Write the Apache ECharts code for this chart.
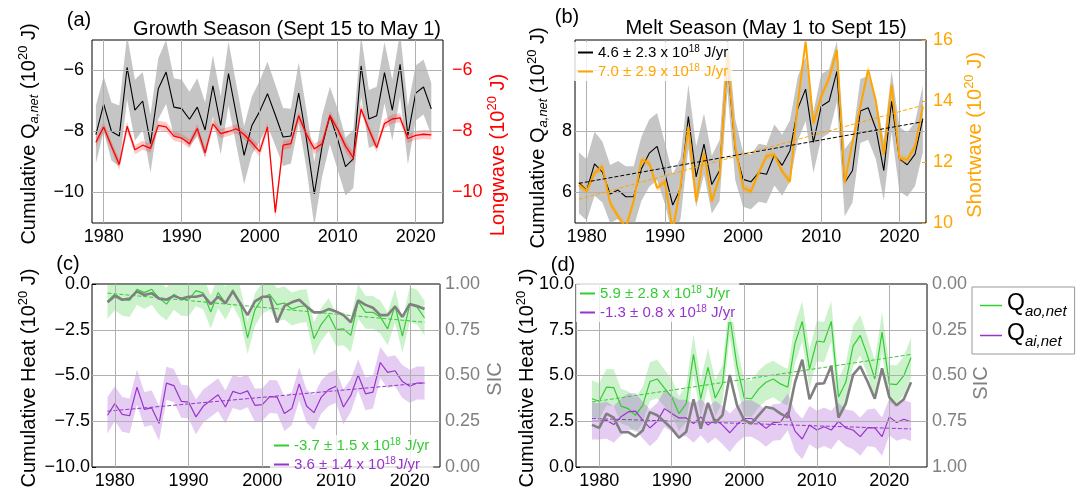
<!DOCTYPE html>
<html>
<head>
<meta charset="utf-8">
<script src="https://cdn.jsdelivr.net/npm/echarts@6/dist/echarts.min.js"></script>
<style>
  html, body { margin: 0; padding: 0; background: #fff; }
  #chart { width: 1080px; height: 490px; }
</style>
</head>
<body>
<div id="chart"></div>
<script>
// ---- data ----
var years = [1979, 1980, 1981, 1982, 1983, 1984, 1985, 1986, 1987, 1988, 1989, 1990, 1991, 1992, 1993,
  1994, 1995, 1996, 1997, 1998, 1999, 2000, 2001, 2002, 2003, 2004, 2005, 2006, 2007, 2008, 2009,
  2010, 2011, 2012, 2013, 2014, 2015, 2016, 2017, 2018, 2019, 2020, 2021, 2022];
var yearsMelt = years.concat([2023]);

var xTickYears = [1980, 1990, 2000, 2010, 2020];

// (a) growth season
var growthNet = [-8.1, -7.1, -8.0, -8.15, -5.9, -7.3, -7.0, -8.4, -6.6, -6.05, -7.2, -7.25, -7.6, -7.2, -7.95,
  -6.5, -7.8, -6.1, -7.45, -8.78, -7.8, -7.34, -6.76, -7.46, -8.18, -8.15, -6.74, -8.26, -10.05, -8.48, -7.48,
  -8.26, -9.15, -8.9, -5.85, -7.59, -7.48, -6.07, -7.3, -5.8, -8.13, -6.74, -6.54, -7.26];
var growthNetErr = [0.95, 0.9, 0.95, 1.0, 1.05, 1.0, 0.95, 0.95, 1.0, 1.05, 0.95, 0.95, 0.9, 0.95, 0.9,
  1.0, 0.95, 1.05, 1.0, 0.95, 0.95, 1.0, 1.05, 1.0, 0.95, 0.9, 1.0, 0.95, 1.05, 1.0, 0.95,
  1.0, 0.95, 0.95, 1.0, 0.95, 0.95, 1.0, 1.0, 1.05, 0.95, 0.9, 0.9, 0.85];
var growthLw = [-8.35, -7.85, -8.48, -9.08, -7.83, -8.6, -8.45, -8.55, -7.8, -7.85, -8.15, -8.22, -8.4, -7.9, -8.7,
  -7.75, -8.07, -8.0, -7.91, -8.1, -8.37, -8.66, -7.85, -10.65, -8.45, -8.4, -7.48, -8.1, -8.57, -8.4, -7.48,
  -7.93, -8.48, -8.86, -7.26, -7.93, -8.53, -7.74, -7.59, -7.55, -8.23, -8.13, -8.09, -8.11];
var growthLwErr = [0.15, 0.15, 0.15, 0.18, 0.15, 0.15, 0.15, 0.15, 0.15, 0.15, 0.15, 0.15, 0.15, 0.15, 0.18,
  0.15, 0.15, 0.15, 0.15, 0.15, 0.15, 0.18, 0.15, 0.2, 0.15, 0.15, 0.15, 0.15, 0.18, 0.15, 0.15,
  0.15, 0.18, 0.18, 0.15, 0.15, 0.15, 0.15, 0.15, 0.15, 0.15, 0.15, 0.15, 0.15];

// (b) melt season
var meltNet = [6.32, 6.08, 6.94, 6.67, 5.95, 6.08, 5.86, 5.86, 6.78, 7.29, 7.51, 6.62, 5.59, 6.13, 8.49,
  6.51, 7.59, 6.26, 6.72, 10.29, 7.4, 6.43, 6.35, 6.65, 6.6, 7.23, 6.89, 7.37, 8.75, 9.39, 7.64,
  8.83, 8.99, 9.97, 6.32, 6.72, 8.67, 8.78, 8.08, 6.72, 8.99, 7.1, 6.91, 7.26, 8.42];
var meltNetErr = [1.0, 1.0, 1.05, 1.0, 0.95, 0.95, 1.0, 1.0, 1.05, 1.1, 1.1, 1.0, 1.0, 1.0, 1.05,
  1.0, 1.0, 0.95, 1.0, 0.95, 1.0, 0.9, 0.9, 0.95, 0.95, 1.0, 1.0, 1.0, 1.05, 1.05, 1.0,
  1.05, 1.05, 1.0, 1.1, 1.05, 1.05, 1.05, 1.0, 1.0, 1.0, 1.05, 1.05, 1.05, 1.1];
var meltSw = [11.25, 11.04, 11.64, 11.85, 10.65, 10.22, 9.85, 10.71, 12.07, 11.96, 11.15, 11.36, 9.75, 11.2, 13.16,
  10.71, 12.29, 10.71, 11.53, 15.5, 12.5, 11.15, 11.04, 11.64, 12.2, 12.24, 11.69, 11.36, 13.93, 15.95, 13.27,
  14.15, 14.75, 15.67, 11.31, 12.67, 13.82, 15.02, 13.98, 12.24, 14.53, 12.13, 12.07, 12.51, 13.82];
var meltSwErr = [0.12, 0.12, 0.12, 0.12, 0.12, 0.12, 0.12, 0.12, 0.12, 0.12, 0.12, 0.12, 0.12, 0.12, 0.12,
  0.12, 0.12, 0.12, 0.12, 0.15, 0.12, 0.12, 0.12, 0.12, 0.12, 0.12, 0.12, 0.12, 0.15, 0.15, 0.12,
  0.15, 0.15, 0.15, 0.12, 0.12, 0.12, 0.15, 0.12, 0.12, 0.15, 0.12, 0.12, 0.12, 0.12];
var meltNetTrend = [[1979, 6.3], [2023, 8.32]];
var meltSwTrend = [[1979, 10.78], [2023, 13.86]];

// (c) growth season ocean / ice
var growthAo = [-0.95, -0.54, -0.83, -0.9, -0.29, -0.47, -0.29, -0.77, -1.1, -0.56, -0.83, -0.86, -0.36, -0.5, -1.53,
  -0.47, -1.05, -0.32, -1.05, -2.94, -1.4, -0.77, -0.56, -1.13, -1.04, -1.37, -1.23, -1.19, -2.99, -2.2, -1.68,
  -2.49, -2.45, -2.81, -0.95, -1.55, -1.55, -1.8, -2.45, -1.19, -2.85, -1.13, -1.26, -1.86];
var growthAoErr = [0.95, 0.9, 0.9, 0.9, 0.85, 0.9, 0.85, 0.9, 0.9, 0.85, 0.9, 0.9, 0.85, 0.9, 0.9,
  0.85, 0.9, 0.85, 0.9, 0.9, 0.9, 0.85, 0.85, 0.9, 0.9, 0.9, 0.9, 0.9, 0.9, 0.9, 0.9,
  0.9, 0.9, 0.9, 0.95, 0.9, 0.9, 0.9, 0.9, 0.9, 0.9, 0.95, 0.95, 0.95];
var growthAi = [-7.17, -6.54, -7.12, -7.2, -5.64, -6.85, -6.77, -7.62, -5.42, -5.55, -6.41, -6.45, -7.26, -6.67, -6.36,
  -6.05, -6.72, -5.87, -6.0, -5.84, -6.63, -6.59, -6.15, -6.18, -7.08, -6.81, -5.46, -6.67, -7.03, -6.18, -5.77,
  -5.59, -6.72, -6.09, -4.97, -6.0, -5.91, -4.29, -4.83, -4.74, -5.33, -5.59, -5.41, -5.41];
var growthAiErr = [1.0, 0.95, 0.95, 0.95, 0.95, 0.95, 0.95, 0.95, 0.9, 0.9, 0.9, 0.9, 0.95, 0.9, 0.9,
  0.9, 0.9, 0.9, 0.9, 0.9, 0.9, 0.9, 0.9, 0.9, 0.95, 0.9, 0.9, 0.9, 0.95, 0.9, 0.9,
  0.9, 0.95, 0.9, 0.85, 0.9, 0.9, 0.85, 0.85, 0.85, 0.9, 0.9, 0.9, 0.9];
var growthSic = [0.90, 0.935, 0.914, 0.92, 0.96, 0.94, 0.95, 0.92, 0.914, 0.935, 0.92, 0.93, 0.93, 0.94, 0.89,
  0.93, 0.895, 0.96, 0.895, 0.83, 0.905, 0.93, 0.93, 0.79, 0.88, 0.9, 0.914, 0.877, 0.845, 0.845, 0.863,
  0.85, 0.83, 0.79, 0.91, 0.886, 0.87, 0.83, 0.83, 0.877, 0.82, 0.89, 0.88, 0.863];
var growthAoTrend = [[1979, -0.5], [2022, -2.09]];
var growthAiTrend = [[1979, -6.95], [2022, -5.4]];

// (d) melt season ocean / ice
var meltAo = [3.73, 3.59, 4.36, 4.34, 3.33, 3.19, 2.83, 3.37, 4.67, 4.81, 4.31, 3.82, 2.92, 3.46, 6.16,
  3.73, 5.44, 3.77, 4.54, 8.23, 5.53, 3.77, 3.73, 4.27, 4.63, 4.81, 4.54, 4.36, 6.76, 7.96, 5.35,
  6.88, 6.83, 7.96, 3.82, 4.63, 6.61, 7.19, 6.07, 4.81, 7.37, 4.54, 4.5, 4.99, 5.98];
var meltAoErr = [1.0, 1.0, 1.0, 1.0, 0.95, 0.95, 0.95, 1.0, 1.05, 1.05, 1.0, 1.0, 0.95, 1.0, 1.1,
  1.0, 1.05, 1.0, 1.0, 1.1, 1.05, 1.0, 1.0, 1.0, 1.0, 1.0, 1.0, 1.0, 1.1, 1.1, 1.05,
  1.1, 1.1, 1.1, 1.0, 1.05, 1.1, 1.1, 1.05, 1.0, 1.1, 1.05, 1.05, 1.05, 1.1];
var meltAi = [2.5, 2.5, 2.56, 2.32, 2.74, 3.01, 3.05, 2.56, 2.14, 2.5, 3.19, 2.92, 2.68, 2.68, 2.38,
  2.74, 2.29, 2.61, 2.29, 1.87, 2.32, 2.65, 2.65, 2.43, 2.11, 2.43, 2.47, 3.01, 1.96, 1.53, 2.29,
  2.02, 2.2, 2.02, 2.5, 2.14, 2.02, 1.66, 2.14, 2.14, 1.66, 2.74, 2.43, 2.61, 2.47];
var meltAiErr = [1.0, 1.0, 1.0, 1.0, 1.0, 1.0, 1.0, 1.0, 1.0, 1.0, 1.0, 1.0, 1.0, 1.0, 1.05,
  1.0, 1.0, 1.0, 1.05, 1.05, 1.0, 1.0, 1.0, 1.0, 1.0, 1.0, 1.0, 1.0, 1.1, 1.1, 1.05,
  1.05, 1.05, 1.05, 1.0, 1.0, 1.05, 1.05, 1.0, 1.05, 1.05, 1.0, 1.0, 1.05, 1.05];
var meltSic = [0.77, 0.786, 0.708, 0.73, 0.81, 0.81, 0.834, 0.80, 0.70, 0.717, 0.753, 0.79, 0.84, 0.807, 0.63,
  0.79, 0.65, 0.76, 0.717, 0.497, 0.663, 0.744, 0.762, 0.717, 0.672, 0.68, 0.708, 0.73, 0.537, 0.414, 0.63,
  0.546, 0.542, 0.447, 0.73, 0.654, 0.497, 0.45, 0.533, 0.627, 0.461, 0.618, 0.663, 0.63, 0.537];
var meltAoTrend = [[1979, 3.55], [2023, 6.15]];
var meltAiTrend = [[1979, 2.65], [2023, 2.08]];

// tick labels and grid lines
var aTicks = [-10, -8, -6];
var bLeftTicks = [6, 8];
var bGrid = [6, 8, 10];
var bRightTicks = [10, 12, 14, 16];
var cTicks = [-10, -7.5, -5, -2.5, 0];
var cGrid = [-7.5, -5, -2.5];
var dTicks = [0, 2.5, 5, 7.5, 10];
var dGrid = [2.5, 5, 7.5];
var sicTicks = [0, 0.25, 0.5, 0.75, 1];

// ---- styling ----
var FONT = '"Liberation Sans", Arial, sans-serif';
var GRID_COLOR = '#b0b0b0';
var GREEN = '#33cc33';
var PURPLE = '#9933cc';
var ORANGE = '#ffa500';
var SIC_GRAY = '#808080';
var TICK_SIZE = 18;
var NAME_SIZE = 20;

function pairs(xs, ys) {
  return xs.map(function(x, i) { return [x, ys[i]]; });
}

function richFor(size, color) {
  var small = Math.round(size * 0.64);
  return {
    t: { fontSize: size, fontFamily: FONT, fill: color, color: color, lineHeight: size + 4 },
    sub: { fontSize: small, fontFamily: FONT, fontStyle: 'italic', fill: color, color: color,
      lineHeight: small, verticalAlign: 'bottom' },
    sup: { fontSize: small, fontFamily: FONT, fill: color, color: color,
      lineHeight: small, verticalAlign: 'top' }
  };
}

function txt(x, y, text, size, color, rot, align) {
  return {
    type: 'text', x: x, y: y, rotation: rot || 0, silent: true, z: 100,
    style: {
      text: text, fontSize: size, fontFamily: FONT, fill: color,
      align: align || 'center', verticalAlign: 'middle',
      textAlign: align || 'center', textVerticalAlign: 'middle',
      rich: richFor(size, color)
    }
  };
}

function xAx(gi, min, max) {
  return {
    type: 'value', gridIndex: gi, min: min, max: max,
    axisLine: { show: false },
    axisTick: { show: false },
    splitLine: { show: false },
    axisLabel: {
      customValues: xTickYears, margin: 5, fontSize: TICK_SIZE, fontFamily: FONT, color: '#000',
      formatter: function(v) { return String(v); }
    }
  };
}

function yAx(gi, pos, min, max, ticks, color, fmt, margin, inverse) {
  return {
    type: 'value', gridIndex: gi, position: pos, min: min, max: max, inverse: !!inverse,
    axisLine: { show: false },
    axisTick: { show: true, inside: true, length: 4, customValues: ticks, lineStyle: { color: color } },
    splitLine: { show: false },
    axisLabel: {
      customValues: ticks, margin: margin, fontSize: TICK_SIZE, fontFamily: FONT, color: color,
      formatter: fmt
    }
  };
}

function minusFmt(dec) {
  return function(v) {
    var s = Math.abs(v).toFixed(dec);
    return (v < 0 ? '\u2212' : '') + s;
  };
}

function gridLines(xi, yi, yVals) {
  var data = xTickYears.map(function(x) { return { xAxis: x }; })
    .concat(yVals.map(function(y) { return { yAxis: y }; }));
  return {
    type: 'line', xAxisIndex: xi, yAxisIndex: yi, data: [], symbol: 'none', silent: true, z: 1,
    markLine: {
      silent: true, symbol: ['none', 'none'], label: { show: false }, animation: false,
      lineStyle: { color: GRID_COLOR, width: 1, type: 'solid' },
      emphasis: { disabled: true },
      data: data
    }
  };
}

// uncertainty band: one polygon through (year, v - err) and back along (year, v + err)
function band(xs, vals, errs, color, xi, yi, z) {
  var rows = xs.map(function(x, i) { return [x, vals[i] - errs[i], vals[i] + errs[i]]; });
  return {
    type: 'custom', xAxisIndex: xi, yAxisIndex: yi, z: z, silent: true,
    data: rows, encode: { x: 0, y: [1, 2] },
    renderItem: function(params, api) {
      if (params.dataIndex !== 0) return null;
      var pts = [];
      rows.forEach(function(r) { pts.push(api.coord([r[0], r[1]])); });
      for (var i = rows.length - 1; i >= 0; i--) pts.push(api.coord([rows[i][0], rows[i][2]]));
      var cs = params.coordSys;
      return {
        type: 'polygon', shape: { points: pts }, style: { fill: color },
        clipPath: { type: 'rect', shape: { x: cs.x, y: cs.y, width: cs.width, height: cs.height } }
      };
    }
  };
}

function line(name, xs, vals, color, width, xi, yi, z, dashed) {
  return {
    name: name, type: 'line', xAxisIndex: xi, yAxisIndex: yi,
    data: xs ? pairs(xs, vals) : vals,
    symbol: 'none', z: z, silent: true,
    itemStyle: { color: color },
    lineStyle: { color: color, width: width, type: dashed ? [4, 2] : 'solid' }
  };
}

var legendText = {
  bNet: '{t|4.6 \u00b1 2.3 x 10}{sup|18}{t| J/yr}',
  bSw: '{t|7.0 \u00b1 2.9 x 10}{sup|18}{t| J/yr}',
  cAo: '{t|-3.7 \u00b1 1.5 x 10}{sup|18}{t| J/yr}',
  cAi: '{t|3.6 \u00b1 1.4 x 10}{sup|18}{t|J/yr}',
  dAo: '{t|5.9 \u00b1 2.8 x 10}{sup|18}{t| J/yr}',
  dAi: '{t|-1.3 \u00b1 0.8 x 10}{sup|18}{t| J/yr}',
  Qao: '{q|Q}{s|ao,net}',
  Qai: '{q|Q}{s|ai,net}'
};
var legendRich = {
  t: { fontSize: 15, fontFamily: FONT, lineHeight: 17 },
  sup: { fontSize: 10, fontFamily: FONT, lineHeight: 10, verticalAlign: 'top' },
  q: { fontSize: 23, fontFamily: FONT, lineHeight: 27, padding: [0, 0, 4, 0], verticalAlign: 'bottom' },
  s: { fontSize: 15, fontFamily: FONT, fontStyle: 'italic', lineHeight: 15, verticalAlign: 'bottom' }
};
function legendFmt(name) { return legendText[name]; }

function innerLegend(left, top, items) {
  return {
    left: left, top: top, orient: 'vertical', itemGap: 3, itemWidth: 15, itemHeight: 2,
    padding: [2, 4], backgroundColor: 'rgba(255,255,255,0.8)', selectedMode: false, z: 10,
    formatter: legendFmt,
    textStyle: { fontSize: 15, fontFamily: FONT, rich: legendRich },
    data: items.map(function(it) { return { name: it[0], icon: 'rect', textStyle: { color: it[1] } }; })
  };
}

var series = [];
// panel (a)
series.push(gridLines(0, 0, aTicks));
series.push(band(years, growthNet, growthNetErr, 'rgba(150,150,150,0.55)', 0, 0, 2));
series.push(line('aNet', years, growthNet, '#000', 1.1, 0, 0, 3));
series.push(band(years, growthLw, growthLwErr, 'rgba(255,40,40,0.25)', 0, 1, 4));
series.push(line('aLw', years, growthLw, '#ff0000', 1.3, 0, 1, 5));
// panel (b)
series.push(gridLines(1, 2, bGrid));
series.push(band(yearsMelt, meltNet, meltNetErr, 'rgba(150,150,150,0.55)', 1, 2, 2));
series.push(line('bNet', yearsMelt, meltNet, '#000', 1.1, 1, 2, 3));
series.push(band(yearsMelt, meltSw, meltSwErr, 'rgba(255,165,0,0.3)', 1, 3, 4));
series.push(line('bSw', yearsMelt, meltSw, ORANGE, 2, 1, 3, 5));
series.push(line('bNetT', null, meltNetTrend, '#000', 1, 1, 2, 6, true));
series.push(line('bSwT', null, meltSwTrend, ORANGE, 1, 1, 3, 6, true));
// panel (c)
series.push(gridLines(2, 4, cGrid));
series.push(band(years, growthAo, growthAoErr, 'rgba(51,204,51,0.25)', 2, 4, 2));
series.push(band(years, growthAi, growthAiErr, 'rgba(153,51,204,0.25)', 2, 4, 2));
series.push(line('cAo', years, growthAo, GREEN, 1.2, 2, 4, 3));
series.push(line('cAi', years, growthAi, PURPLE, 1.2, 2, 4, 3));
series.push(line('cAoT', null, growthAoTrend, GREEN, 1, 2, 4, 4, true));
series.push(line('cAiT', null, growthAiTrend, PURPLE, 1, 2, 4, 4, true));
series.push(line('cSic', years, growthSic, SIC_GRAY, 2.6, 2, 5, 5));
// panel (d)
series.push(gridLines(3, 6, dGrid));
series.push(band(yearsMelt, meltAo, meltAoErr, 'rgba(51,204,51,0.25)', 3, 6, 2));
series.push(band(yearsMelt, meltAi, meltAiErr, 'rgba(153,51,204,0.25)', 3, 6, 2));
series.push(line('dAo', yearsMelt, meltAo, GREEN, 1.2, 3, 6, 3));
series.push(line('dAi', yearsMelt, meltAi, PURPLE, 1.2, 3, 6, 3));
series.push(line('dAoT', null, meltAoTrend, GREEN, 1, 3, 6, 4, true));
series.push(line('dAiT', null, meltAiTrend, PURPLE, 1, 3, 6, 4, true));
series.push(line('dSic', yearsMelt, meltSic, SIC_GRAY, 2.6, 3, 7, 5));
// legend-only entries
series.push(line('Qao', null, [], GREEN, 1.2, 3, 6, 3));
series.push(line('Qai', null, [], PURPLE, 1.2, 3, 6, 3));

var option = {
  animation: false,
  backgroundColor: '#fff',
  grid: [
    { left: 92, top: 40, width: 351, height: 183 },
    { left: 575, top: 40, width: 351, height: 183 },
    { left: 92, top: 284, width: 348, height: 185 },
    { left: 576, top: 284, width: 351, height: 185 }
  ].map(function(g) {
    return Object.assign({ show: true, borderColor: '#000', borderWidth: 1, backgroundColor: 'transparent' }, g);
  }),
  xAxis: [
    xAx(0, 1978.5, 2023.5),
    xAx(1, 1978.5, 2023.4),
    xAx(2, 1976.9, 2024.1),
    xAx(3, 1976.8, 2025.2)
  ],
  yAxis: [
    yAx(0, 'left', -11, -5, aTicks, '#000', minusFmt(0), 8),
    yAx(0, 'right', -11, -5, aTicks, '#ff0000', minusFmt(0), 9),
    yAx(1, 'left', 5, 11, bLeftTicks, '#000', minusFmt(0), 3),
    yAx(1, 'right', 10, 16, bRightTicks, ORANGE, minusFmt(0), 7),
    yAx(2, 'left', -10, 0, cTicks, '#000', minusFmt(1), 2),
    yAx(2, 'right', 0, 1, sicTicks, SIC_GRAY, function(v) { return v.toFixed(2); }, 5),
    yAx(3, 'left', 0, 10, dTicks, '#000', minusFmt(1), 2),
    yAx(3, 'right', 0, 1, sicTicks, SIC_GRAY, function(v) { return v.toFixed(2); }, 5, true)
  ],
  legend: [
    innerLegend(574, 42, [['bNet', '#000'], ['bSw', ORANGE]]),
    innerLegend(270, 435, [['cAo', GREEN], ['cAi', PURPLE]]),
    innerLegend(576, 283, [['dAo', GREEN], ['dAi', PURPLE]]),
    {
      left: 972, top: 287, orient: 'vertical', itemGap: 3, itemWidth: 22, itemHeight: 1.5,
      padding: [5, 8, 5, 8], borderColor: '#999', borderWidth: 1, selectedMode: false,
      formatter: legendFmt,
      textStyle: { fontSize: 23, fontFamily: FONT, color: '#000', rich: legendRich },
      data: [{ name: 'Qao', icon: 'rect' }, { name: 'Qai', icon: 'rect' }]
    }
  ],
  graphic: [
    txt(79, 20, '{t|(a)}', 20, '#000'),
    txt(441, 29, '{t|Growth Season (Sept 15 to May 1)}', 20, '#000', 0, 'right'),
    txt(567, 17, '{t|(b)}', 20, '#000'),
    txt(766, 28, '{t|Melt Season (May 1 to Sept 15)}', 20, '#000'),
    txt(68, 264, '{t|(c)}', 20, '#000'),
    txt(563, 265, '{t|(d)}', 20, '#000'),
    txt(29, 134, '{t|Cumulative Q}{sub|a,net}{t| (10}{sup|20}{t| J)}', NAME_SIZE, '#000', Math.PI / 2),
    txt(498, 155, '{t|Longwave (10}{sup|20}{t| J)}', NAME_SIZE, '#ff0000', Math.PI / 2),
    txt(538, 138, '{t|Cumulative Q}{sub|a,net}{t| (10}{sup|20}{t| J)}', NAME_SIZE, '#000', Math.PI / 2),
    txt(975, 135, '{t|Shortwave (10}{sup|20}{t| J)}', NAME_SIZE, ORANGE, Math.PI / 2),
    txt(29, 378, '{t|Cumulative Heat (10}{sup|20}{t| J)}', NAME_SIZE, '#000', Math.PI / 2),
    txt(495, 379, '{t|SIC}', NAME_SIZE, SIC_GRAY, Math.PI / 2),
    txt(527, 378, '{t|Cumulative Heat (10}{sup|20}{t| J)}', NAME_SIZE, '#000', Math.PI / 2),
    txt(981, 383, '{t|SIC}', NAME_SIZE, SIC_GRAY, Math.PI / 2)
  ],
  series: series
};

var chart = echarts.init(document.getElementById('chart'));
chart.setOption(option);
</script>
</body>
</html>
